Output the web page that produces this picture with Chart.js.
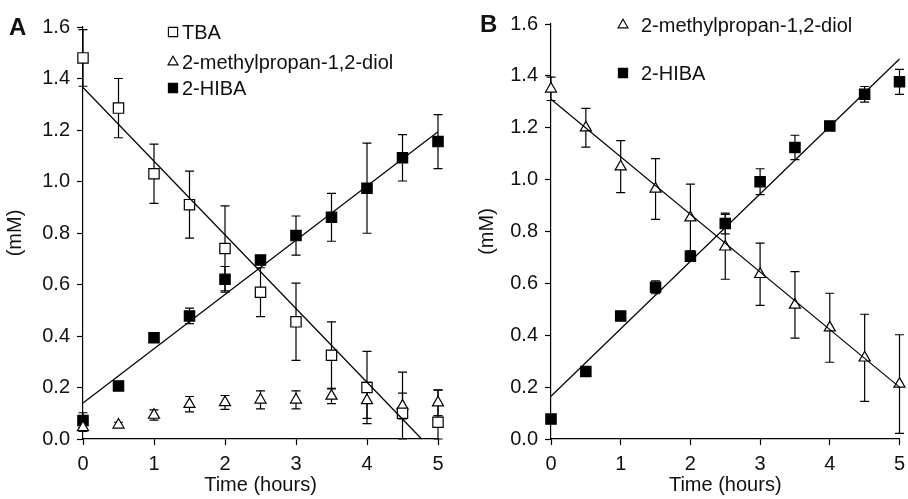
<!DOCTYPE html>
<html>
<head>
<meta charset="utf-8">
<script src="https://cdn.jsdelivr.net/npm/chart.js@4.4.1/dist/chart.umd.min.js"></script>
<style>
    body { margin: 0; background: #fff; width: 908px; height: 499px; overflow: hidden; position: relative; }
    .panel { position: absolute; top: 0; width: 454px; height: 499px; }
    #panelA { left: 0; }
    #panelB { left: 454px; }
</style>
</head>
<body>
<div class="panel" id="panelA"><canvas id="chartA" width="454" height="499"></canvas></div>
<div class="panel" id="panelB"><canvas id="chartB" width="454" height="499"></canvas></div>
<script>
// time points (hours)
const hours = [0, 0.5, 1, 1.5, 2, 2.5, 3, 3.5, 4, 4.5, 5];
const yTicks = [0, 0.2, 0.4, 0.6, 0.8, 1.0, 1.2, 1.4, 1.6];

// panel A
const tbaA      = [1.48, 1.285, 1.03, 0.91, 0.74, 0.57, 0.455, 0.325, 0.20, 0.10, 0.065];
const tbaErrA   = [0.11, 0.115, 0.115, 0.13, 0.165, 0.095, 0.15, 0.13, 0.14, 0.16, 0.125];
const diolA     = [0.045, 0.055, 0.093, 0.135, 0.142, 0.152, 0.152, 0.167, 0.15, 0.128, 0.141];
const diolErrA  = [0.015, 0.01, 0.02, 0.03, 0.027, 0.035, 0.035, 0.03, 0.07, 0.05, 0.05];
const hibaA     = [0.072, 0.206, 0.393, 0.478, 0.62, 0.695, 0.79, 0.861, 0.974, 1.092, 1.155];
const hibaErrA  = [0.03, 0.005, 0.015, 0.03, 0.05, 0.015, 0.076, 0.093, 0.175, 0.09, 0.105];
const tbaFitA   = [[0, 1.365], [4.77, 0]];
const hibaFitA  = [[0, 0.14], [5, 1.193]];

// panel B
const diolB     = [1.35, 1.2, 1.05, 0.964, 0.853, 0.741, 0.635, 0.517, 0.429, 0.313, 0.212];
const diolErrB  = [0.045, 0.075, 0.1, 0.117, 0.13, 0.125, 0.12, 0.128, 0.133, 0.168, 0.19];
const hibaB     = [0.077, 0.26, 0.474, 0.585, 0.705, 0.831, 0.992, 1.124, 1.207, 1.329, 1.377];
const hibaErrB  = [0.005, 0.005, 0.005, 0.025, 0.02, 0.04, 0.05, 0.047, 0.005, 0.03, 0.048];
const diolFitB  = [[0, 1.31], [5, 0.20]];
const hibaFitB  = [[0, 0.165], [5, 1.465]];

const legendA = ['TBA', '2-methylpropan-1,2-diol', '2-HIBA'];
const legendB = ['2-methylpropan-1,2-diol', '2-HIBA'];

const FONT = "'Liberation Sans', Arial, sans-serif";
const INK = '#111';

function pts(ys) {
    return hours.map((h, i) => ({ x: h, y: ys[i] }));
}
function fitPts(f) {
    return f.map(p => ({ x: p[0], y: p[1] }));
}

function markerSet(label, ys, errs, style, filled) {
    return {
        type: 'scatter',
        label: label,
        data: pts(ys),
        errors: errs,
        pointStyle: style,
        pointRadius: style === 'triangle' ? 6.4 : 7.3,
        pointBorderWidth: 1.2,
        pointBorderColor: '#000',
        pointBackgroundColor: filled ? '#000' : '#fff',
        clip: false
    };
}
function fitSet(f) {
    return {
        type: 'line',
        data: fitPts(f),
        borderColor: '#000',
        borderWidth: 1.2,
        pointRadius: 0,
        fill: false,
        clip: false
    };
}

// vertical error bars with caps, drawn under the markers
const errorBars = {
    id: 'errorBars',
    beforeDatasetsDraw(chart) {
        const ctx = chart.ctx;
        const xs = chart.scales.x, ys = chart.scales.y;
        ctx.save();
        ctx.strokeStyle = '#000';
        ctx.lineWidth = 1.2;
        chart.data.datasets.forEach(ds => {
            if (!ds.errors) return;
            ds.data.forEach((p, i) => {
                const e = ds.errors[i];
                const x = xs.getPixelForValue(p.x);
                const top = ys.getPixelForValue(p.y + e);
                const bot = ys.getPixelForValue(Math.max(p.y - e, 0));
                ctx.beginPath();
                ctx.moveTo(x, top); ctx.lineTo(x, bot);
                ctx.moveTo(x - 4.5, top); ctx.lineTo(x + 4.5, top);
                ctx.moveTo(x - 4.5, bot); ctx.lineTo(x + 4.5, bot);
                ctx.stroke();
            });
        });
        ctx.restore();
    }
};

// panel letter and the frameless legend inside the plot
const panelDecor = {
    id: 'panelDecor',
    afterDraw(chart, args, opts) {
        const ctx = chart.ctx;
        ctx.save();
        ctx.fillStyle = INK;
        ctx.textBaseline = 'alphabetic';
        ctx.font = 'bold 24px ' + FONT;
        ctx.fillText(opts.letter, opts.letterX, opts.letterY);

        ctx.font = '20px ' + FONT;
        ctx.textBaseline = 'middle';
        const markers = chart.data.datasets.filter(d => d.errors);
        opts.labels.forEach((text, i) => {
            const ds = markers[i];
            const y = opts.rows[i];
            ctx.lineWidth = 1.1;
            ctx.strokeStyle = '#000';
            ctx.fillStyle = ds.pointBackgroundColor;
            Chart.helpers.drawPoint(ctx, {
                pointStyle: ds.pointStyle,
                radius: ds.pointStyle === 'triangle' ? 5.8 : 6.5,
                rotation: 0,
                borderWidth: 1.1
            }, opts.markerX, y);
            ctx.fillStyle = INK;
            ctx.fillText(text, opts.textX, y + 1);
        });
        ctx.restore();
    }
};

function buildChart(id, datasets, pad, yWidth, titlePad, decor) {
    return new Chart(document.getElementById(id), {
        data: { datasets: datasets },
        options: {
            responsive: false,
            animation: false,
            events: [],
            layout: { padding: pad },
            scales: {
                x: {
                    type: 'linear',
                    min: 0,
                    max: 5,
                    afterFit: s => { s.height = 60; s.paddingLeft = 0; s.paddingRight = 0; },
                    ticks: { stepSize: 1, color: INK, padding: 7, font: { family: FONT, size: 20 } },
                    grid: { display: true, drawOnChartArea: false, drawTicks: true, tickLength: 6, tickColor: '#000', tickWidth: 1.2 },
                    border: { display: true, color: '#000', width: 1.2 },
                    title: { display: true, text: 'Time (hours)', color: INK, padding: { top: 0, bottom: 2 }, font: { family: FONT, size: 20 } }
                },
                y: {
                    type: 'linear',
                    min: 0,
                    max: 1.6,
                    afterFit: s => { s.width = yWidth; },
                    afterBuildTicks: s => { s.ticks = yTicks.map(v => ({ value: v })); },
                    ticks: { color: INK, padding: 7, font: { family: FONT, size: 20 }, callback: v => v.toFixed(1) },
                    grid: { display: true, drawOnChartArea: false, drawTicks: true, tickLength: 6, tickColor: '#000', tickWidth: 1.2 },
                    border: { display: true, color: '#000', width: 1.2 },
                    title: { display: true, text: '(mM)', color: INK, padding: { top: titlePad, bottom: 0 }, font: { family: FONT, size: 20 } }
                }
            },
            plugins: {
                legend: { display: false },
                tooltip: { enabled: false },
                panelDecor: decor
            }
        },
        plugins: [errorBars, panelDecor]
    });
}

buildChart('chartA', [
    fitSet(tbaFitA),
    fitSet(hibaFitA),
    markerSet('TBA', tbaA, tbaErrA, 'rect', false),
    markerSet('2-methylpropan-1,2-diol', diolA, diolErrA, 'triangle', false),
    markerSet('2-HIBA', hibaA, hibaErrA, 'rect', true)
], { top: 27, right: 16, left: 0, bottom: 0 }, 83, 3, {
    letter: 'A', letterX: 9, letterY: 35,
    labels: legendA, markerX: 173, textX: 182, rows: [32, 62, 88]
});

buildChart('chartB', [
    fitSet(diolFitB),
    fitSet(hibaFitB),
    markerSet('2-methylpropan-1,2-diol', diolB, diolErrB, 'triangle', false),
    markerSet('2-HIBA', hibaB, hibaErrB, 'rect', true)
], { top: 24, right: 3, left: 0, bottom: 0 }, 97, 21, {
    letter: 'B', letterX: 26, letterY: 32,
    labels: legendB, markerX: 169, textX: 187, rows: [25, 73]
});
</script>
</body>
</html>
